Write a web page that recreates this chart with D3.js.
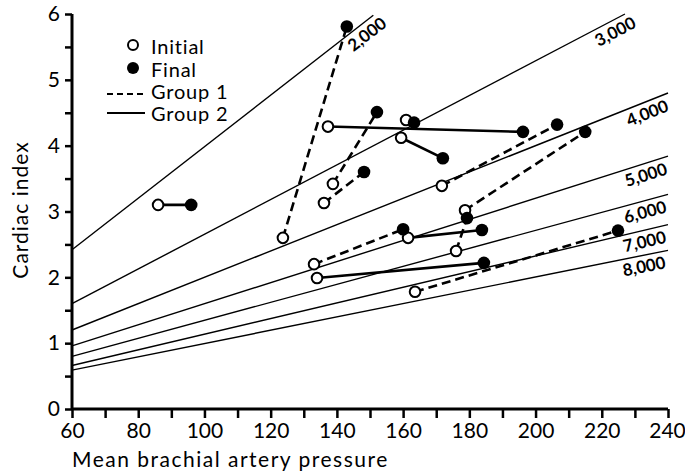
<!DOCTYPE html>
<html>
<head>
<meta charset="utf-8">
<script src="https://cdn.jsdelivr.net/npm/d3@7/dist/d3.min.js"></script>
<style>
  body { margin: 0; background: #fff; }
  svg text { font-family: Lato, "DejaVu Sans", sans-serif; fill: #000; }
</style>
</head>
<body>
<div id="chart"></div>
<script>
// Resistance isolines (labels and endpoints)
const resistances = [2000, 3000, 4000, 5000, 6000, 7000, 8000];
const isoStartP = [60, 60, 60, 60, 60, 60, 60];
const isoStartCI = [2.42, 1.6, 1.2, 0.96, 0.8, 0.66, 0.59];
const isoEndP = [151, 227, 240, 240, 240, 240, 240];
const isoEndCI = [5.98, 6.0, 4.8, 3.84, 3.26, 2.8, 2.41];

// Patients: initial -> final (group 1 dashed, group 2 solid)
const initialP = [123.7, 136.1, 138.8, 171.7, 178.7, 176.0, 133.1, 163.6, 86.0, 137.3, 160.9, 159.4, 161.5, 134.0];
const initialCI = [2.60, 3.13, 3.42, 3.39, 3.02, 2.40, 2.20, 1.78, 3.10, 4.29, 4.39, 4.12, 2.60, 1.99];
const finalP = [143.0, 148.2, 152.1, 206.5, 215.0, 179.3, 160.0, 224.9, 96.0, 196.2, 163.3, 172.0, 183.8, 184.4];
const finalCI = [5.81, 3.60, 4.51, 4.32, 4.21, 2.90, 2.73, 2.71, 3.10, 4.21, 4.35, 3.81, 2.72, 2.22];
const pairGroup = [1, 1, 1, 1, 1, 1, 1, 1, 2, 2, 2, 2, 2, 2];

const xTicks = [60, 80, 100, 120, 140, 160, 180, 200, 220, 240];
const yTicks = [0, 1, 2, 3, 4, 5, 6];

const width = 685, height = 474;
const svg = d3.select('#chart').append('svg')
    .attr('width', width)
    .attr('height', height);

const x = d3.scaleLinear().domain([60, 240]).range([72, 668]);
const y = d3.scaleLinear().domain([0, 6]).range([409, 14]);

// Isolines
resistances.forEach((r, i) => {
    const x0 = x(isoStartP[i]), y0 = y(isoStartCI[i]);
    const x1 = x(isoEndP[i]), y1 = y(isoEndCI[i]);
    svg.append('line')
        .attr('x1', x0).attr('y1', y0)
        .attr('x2', x1).attr('y2', y1)
        .attr('stroke', '#000')
        .attr('stroke-width', 1.4);
    const angle = Math.atan2(y1 - y0, x1 - x0) * 180 / Math.PI;
    svg.append('text')
        .attr('transform', `translate(${x1},${y1}) rotate(${angle})`)
        .attr('x', isoEndCI[i] >= 5.9 ? 5 : -5)
        .attr('y', 17)
        .attr('text-anchor', 'end')
        .style('font-size', '17px')
        .style('font-weight', 'bold')
        .text(d3.format(',')(r));
});

// Axes
const xAxis = d3.axisBottom(x)
    .tickValues(d3.range(60, 241, 10))
    .tickSize(9)
    .tickFormat(d => xTicks.includes(d) ? d : '');
const gx = svg.append('g')
    .attr('transform', `translate(0,${y(0)})`)
    .call(xAxis);

const yAxis = d3.axisLeft(y)
    .tickValues(d3.range(0, 6.01, 0.5))
    .tickSize(7)
    .tickFormat(d => yTicks.includes(d) ? d : '');
const gy = svg.append('g')
    .attr('transform', `translate(${x(60)},0)`)
    .call(yAxis);

[gx, gy].forEach(g => {
    g.select('.domain').attr('stroke', '#000').attr('stroke-width', 3);
    g.selectAll('.tick line').attr('stroke', '#000').attr('stroke-width', 2.5);
    g.selectAll('.tick text')
        .style('font-family', 'Lato, sans-serif')
        .style('font-size', '21px')
        .attr('fill', '#000');
});
gx.select('.domain').attr('d', `M${x(60)},0H${x(240)}`);
gy.select('.domain').attr('d', `M0,${y(6)}V${y(0)}`);
gx.selectAll('.tick text').attr('y', 14);
gx.selectAll('.tick text').filter(d => d === 240).attr('dx', -1);
gy.selectAll('.tick text').attr('x', -12);

// Axis titles
svg.append('text')
    .attr('x', 72)
    .attr('y', 467)
    .style('font-size', '21px')
    .style('letter-spacing', '1.5px')
    .text('Mean brachial artery pressure');

svg.append('text')
    .attr('transform', 'translate(28,210) rotate(-90)')
    .attr('text-anchor', 'middle')
    .style('font-size', '21px')
    .style('letter-spacing', '1px')
    .text('Cardiac index');

// Connecting segments
initialP.forEach((p, i) => {
    svg.append('line')
        .attr('x1', x(p)).attr('y1', y(initialCI[i]))
        .attr('x2', x(finalP[i])).attr('y2', y(finalCI[i]))
        .attr('stroke', '#000')
        .attr('stroke-width', 2.6)
        .attr('stroke-dasharray', pairGroup[i] === 1 ? '9,5' : null);
});

// Initial (open) then final (filled) points
svg.selectAll('circle.initial')
    .data(initialP.map((p, i) => [p, initialCI[i]]))
    .enter()
    .append('circle')
    .attr('class', 'initial')
    .attr('cx', d => x(d[0]))
    .attr('cy', d => y(d[1]))
    .attr('r', 5.3)
    .attr('fill', '#fff')
    .attr('stroke', '#000')
    .attr('stroke-width', 2);

svg.selectAll('circle.final')
    .data(finalP.map((p, i) => [p, finalCI[i]]))
    .enter()
    .append('circle')
    .attr('class', 'final')
    .attr('cx', d => x(d[0]))
    .attr('cy', d => y(d[1]))
    .attr('r', 6.3)
    .attr('fill', '#000');

// Legend
const legend = svg.append('g');
legend.append('circle')
    .attr('cx', 133).attr('cy', 45).attr('r', 5)
    .attr('fill', '#fff').attr('stroke', '#000').attr('stroke-width', 2);
legend.append('circle')
    .attr('cx', 133).attr('cy', 68).attr('r', 6).attr('fill', '#000');
legend.append('line')
    .attr('x1', 107).attr('x2', 145).attr('y1', 94).attr('y2', 94)
    .attr('stroke', '#000').attr('stroke-width', 2).attr('stroke-dasharray', '6,4');
legend.append('line')
    .attr('x1', 107).attr('x2', 145).attr('y1', 113).attr('y2', 113)
    .attr('stroke', '#000').attr('stroke-width', 2);
const legendLabels = ['Initial', 'Final', 'Group 1', 'Group 2'];
const legendBase = [54, 77, 99, 121];
legendLabels.forEach((t, i) => {
    legend.append('text')
        .attr('x', 151)
        .attr('y', legendBase[i])
        .style('font-size', '20px')
        .style('letter-spacing', '0.8px')
        .text(t);
});
</script>
</body>
</html>
